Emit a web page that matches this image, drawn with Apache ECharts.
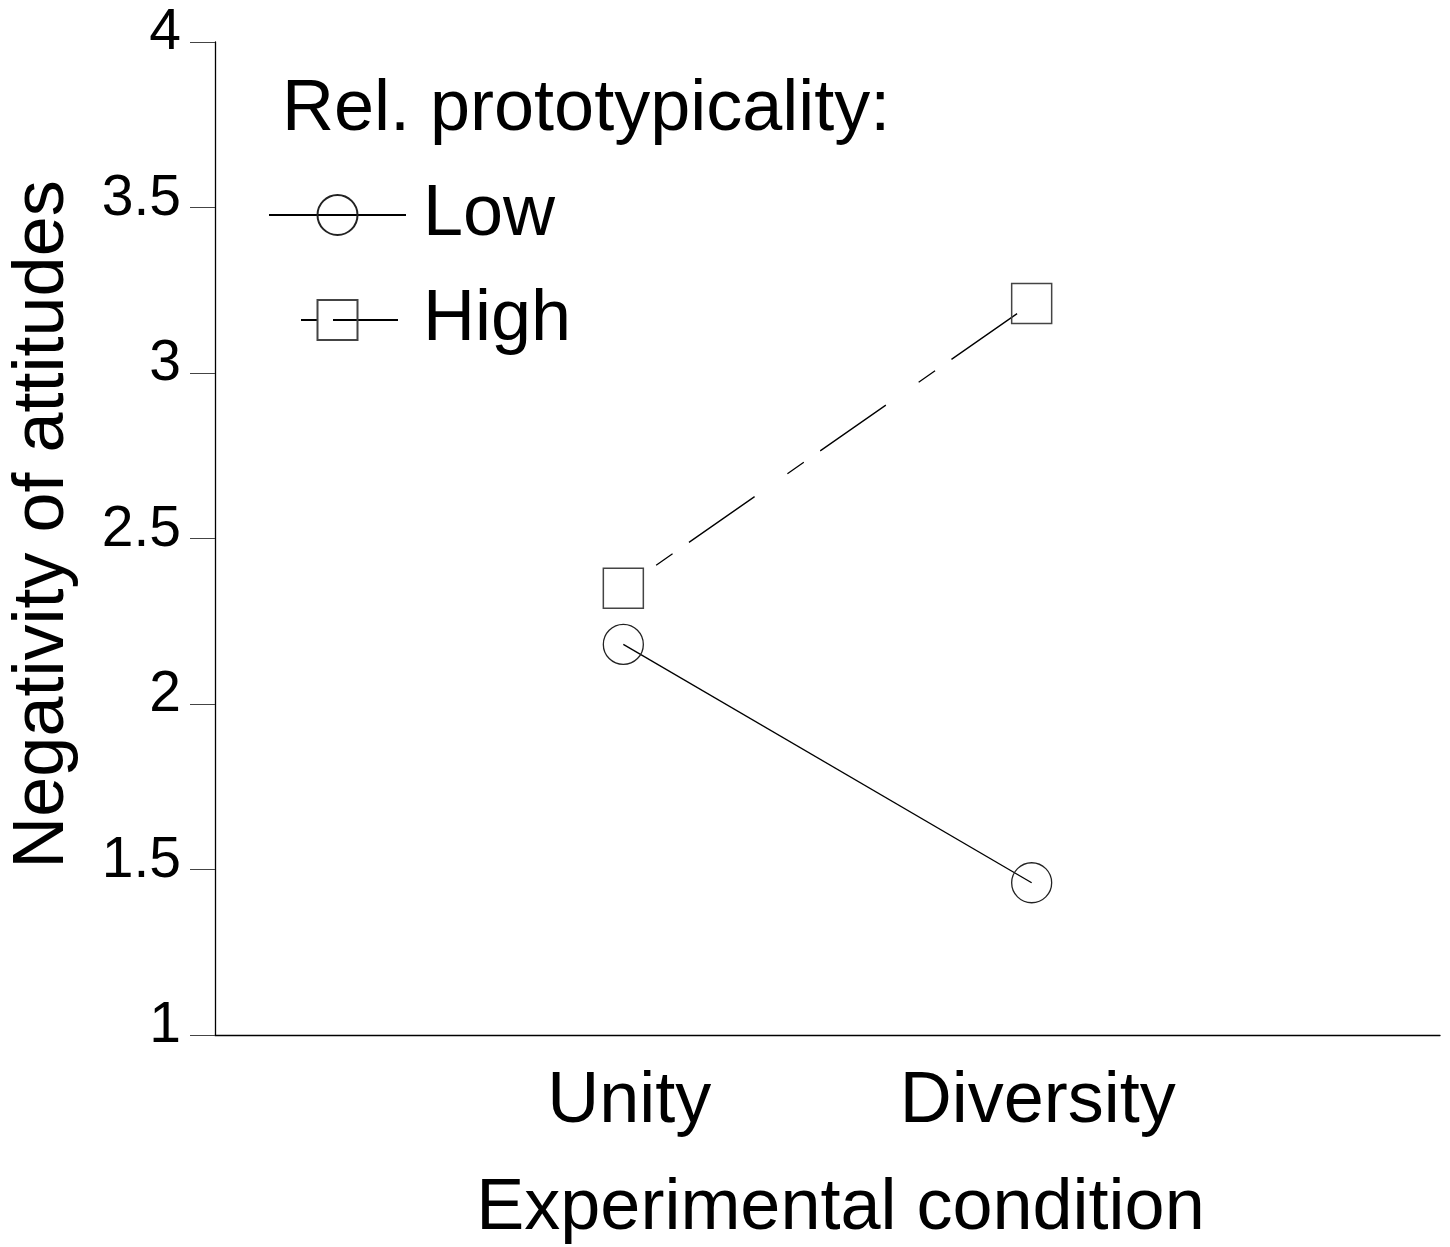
<!doctype html>
<html>
<head>
<meta charset="utf-8">
<script src="https://cdn.jsdelivr.net/npm/echarts@6/dist/echarts.min.js"></script>
<style>
  html, body { margin: 0; padding: 0; background: #fff; }
  #chart { width: 1450px; height: 1247px; }
</style>
</head>
<body>
<div id="chart"></div>
<script>
var categories = ['Unity', 'Diversity'];
var seriesNames = ['Low', 'High'];
var lowValues = [2.18, 1.46];
var highValues = [2.35, 3.21];
var yMin = 1, yMax = 4, yStep = 0.5;

var font = "'Liberation Sans', Arial, sans-serif";

function toPoints(vals) {
  return vals.map(function (v, i) { return [i + 1, v]; });
}

var chart = echarts.init(document.getElementById('chart'));

var option = {
  backgroundColor: '#fff',
  animation: false,
  title: {
    text: 'Rel. prototypicality:',
    left: 282,
    top: 74,
    padding: 0,
    textStyle: { fontFamily: font, fontSize: 72, fontWeight: 'normal', color: '#000' }
  },
  legend: {
    orient: 'vertical',
    left: 268,
    top: 176,
    padding: 0,
    itemWidth: 137,
    itemHeight: 50,
    itemGap: 27,
    textStyle: { fontFamily: font, fontSize: 72, color: '#000', lineHeight: 72, padding: [6, 0, 0, 12] },
    data: [
      { name: 'Low' },
      { name: 'High', lineStyle: { type: [16, 16, 65, 40], dashOffset: 105 } }
    ]
  },
  grid: { left: 215, right: 10, top: 42, bottom: 212, containLabel: false, outerBoundsMode: 'none' },
  xAxis: {
    type: 'value',
    min: 0,
    max: categories.length + 1,
    interval: 1,
    name: 'Experimental condition',
    nameLocation: 'middle',
    nameGap: 138,
    nameTextStyle: { fontFamily: font, fontSize: 72, color: '#000', padding: [0, 0, 0, 26] },
    axisLine: { lineStyle: { color: '#000', width: 1.3 } },
    axisTick: { show: false },
    splitLine: { show: false },
    axisLabel: {
      margin: 31,
      fontFamily: font,
      fontSize: 72,
      color: '#000',
      padding: [0, 0, 0, 12],
      formatter: function (v) { return categories[v - 1] || ''; }
    }
  },
  yAxis: {
    type: 'value',
    min: yMin,
    max: yMax,
    interval: yStep,
    name: 'Negativity of attitudes',
    nameLocation: 'middle',
    nameGap: 136,
    nameMoveOverlap: false,
    nameTextStyle: { fontFamily: font, fontSize: 72, color: '#000', padding: [0, 0, 0, 28] },
    axisLine: { show: true, lineStyle: { color: '#000', width: 1.3 } },
    axisTick: { show: true, length: 25, lineStyle: { color: '#444', width: 1 } },
    splitLine: { show: false },
    axisLabel: {
      margin: 34,
      fontFamily: font,
      fontSize: 57,
      color: '#000',
      verticalAlign: 'bottom',
      lineHeight: 17
    }
  },
  series: [
    {
      name: seriesNames[0],
      type: 'line',
      data: toPoints(lowValues),
      symbol: 'circle',
      symbolSize: 40,
      z: 3,
      lineStyle: { color: '#000', width: 1.3, type: 'solid' },
      itemStyle: { color: 'rgba(0,0,0,0)', borderColor: '#222', borderWidth: 1.3 }
    },
    {
      name: seriesNames[1],
      type: 'line',
      data: toPoints(highValues),
      symbol: 'rect',
      symbolSize: 40,
      z: 3,
      lineStyle: { color: '#000', width: 1.3, type: [80, 40, 20, 20], dashOffset: 80 },
      itemStyle: { color: 'rgba(0,0,0,0)', borderColor: '#444', borderWidth: 1.5 }
    }
  ]
};

chart.setOption(option);
</script>
</body>
</html>
